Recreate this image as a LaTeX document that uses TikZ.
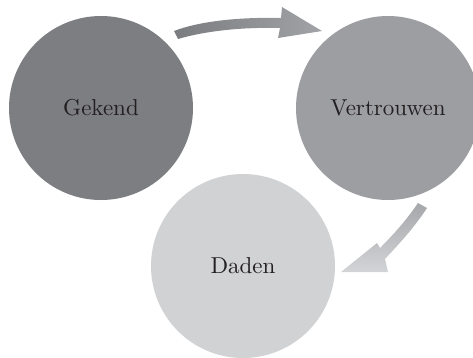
\documentclass[tikz,border=0pt]{standalone}
\usepackage{fontspec}
\newfontfamily\labelfont{lmroman10-regular}[Extension=.otf]
\definecolor{cGekend}{HTML}{7D7E82}
\definecolor{cVertr}{HTML}{9D9EA2}
\definecolor{cDaden}{HTML}{D1D2D4}
\definecolor{cText}{HTML}{231F20}
\definecolor{aOneL}{HTML}{7B7C80}
\definecolor{aOneR}{HTML}{A2A3A7}
\definecolor{aTwoT}{HTML}{A6A7AA}
\definecolor{aTwoB}{HTML}{D3D4D6}
\begin{document}
\begin{tikzpicture}[x=1pt,y=-1pt,
  bubble/.style={circle,minimum size=184pt,inner sep=0pt,text=cText,
    font=\labelfont\fontsize{23}{28}\selectfont}]
\useasboundingbox (0,0) rectangle (473,357);
\clip (0,0) rectangle (473,357);
\node[bubble,fill=cGekend] (gek) at (101,108) {Gekend};
\node[bubble,fill=cVertr] (ver) at (388,108) {Vertrouwen};
\node[bubble,fill=cDaden] (dad) at (243,266) {Daden};
% arrow Gekend -> Vertrouwen
\shade[left color=aOneL,right color=aOneR]
  (178,39) .. controls (205,31) and (242,27) .. (280,28)
  -- (278,38) -- (322,31) -- (282,7) -- (281,18)
  .. controls (240,17) and (200,21) .. (174,31) -- cycle;
% arrow Vertrouwen -> Daden
\shade[top color=aTwoT,bottom color=aTwoB]
  (418,203) .. controls (405,222) and (392,236) .. (380,248)
  -- (377,243) -- (341,272) -- (388,272) -- (385,259)
  .. controls (398,245) and (414,228) .. (427,208) -- cycle;
\end{tikzpicture}
\end{document}
